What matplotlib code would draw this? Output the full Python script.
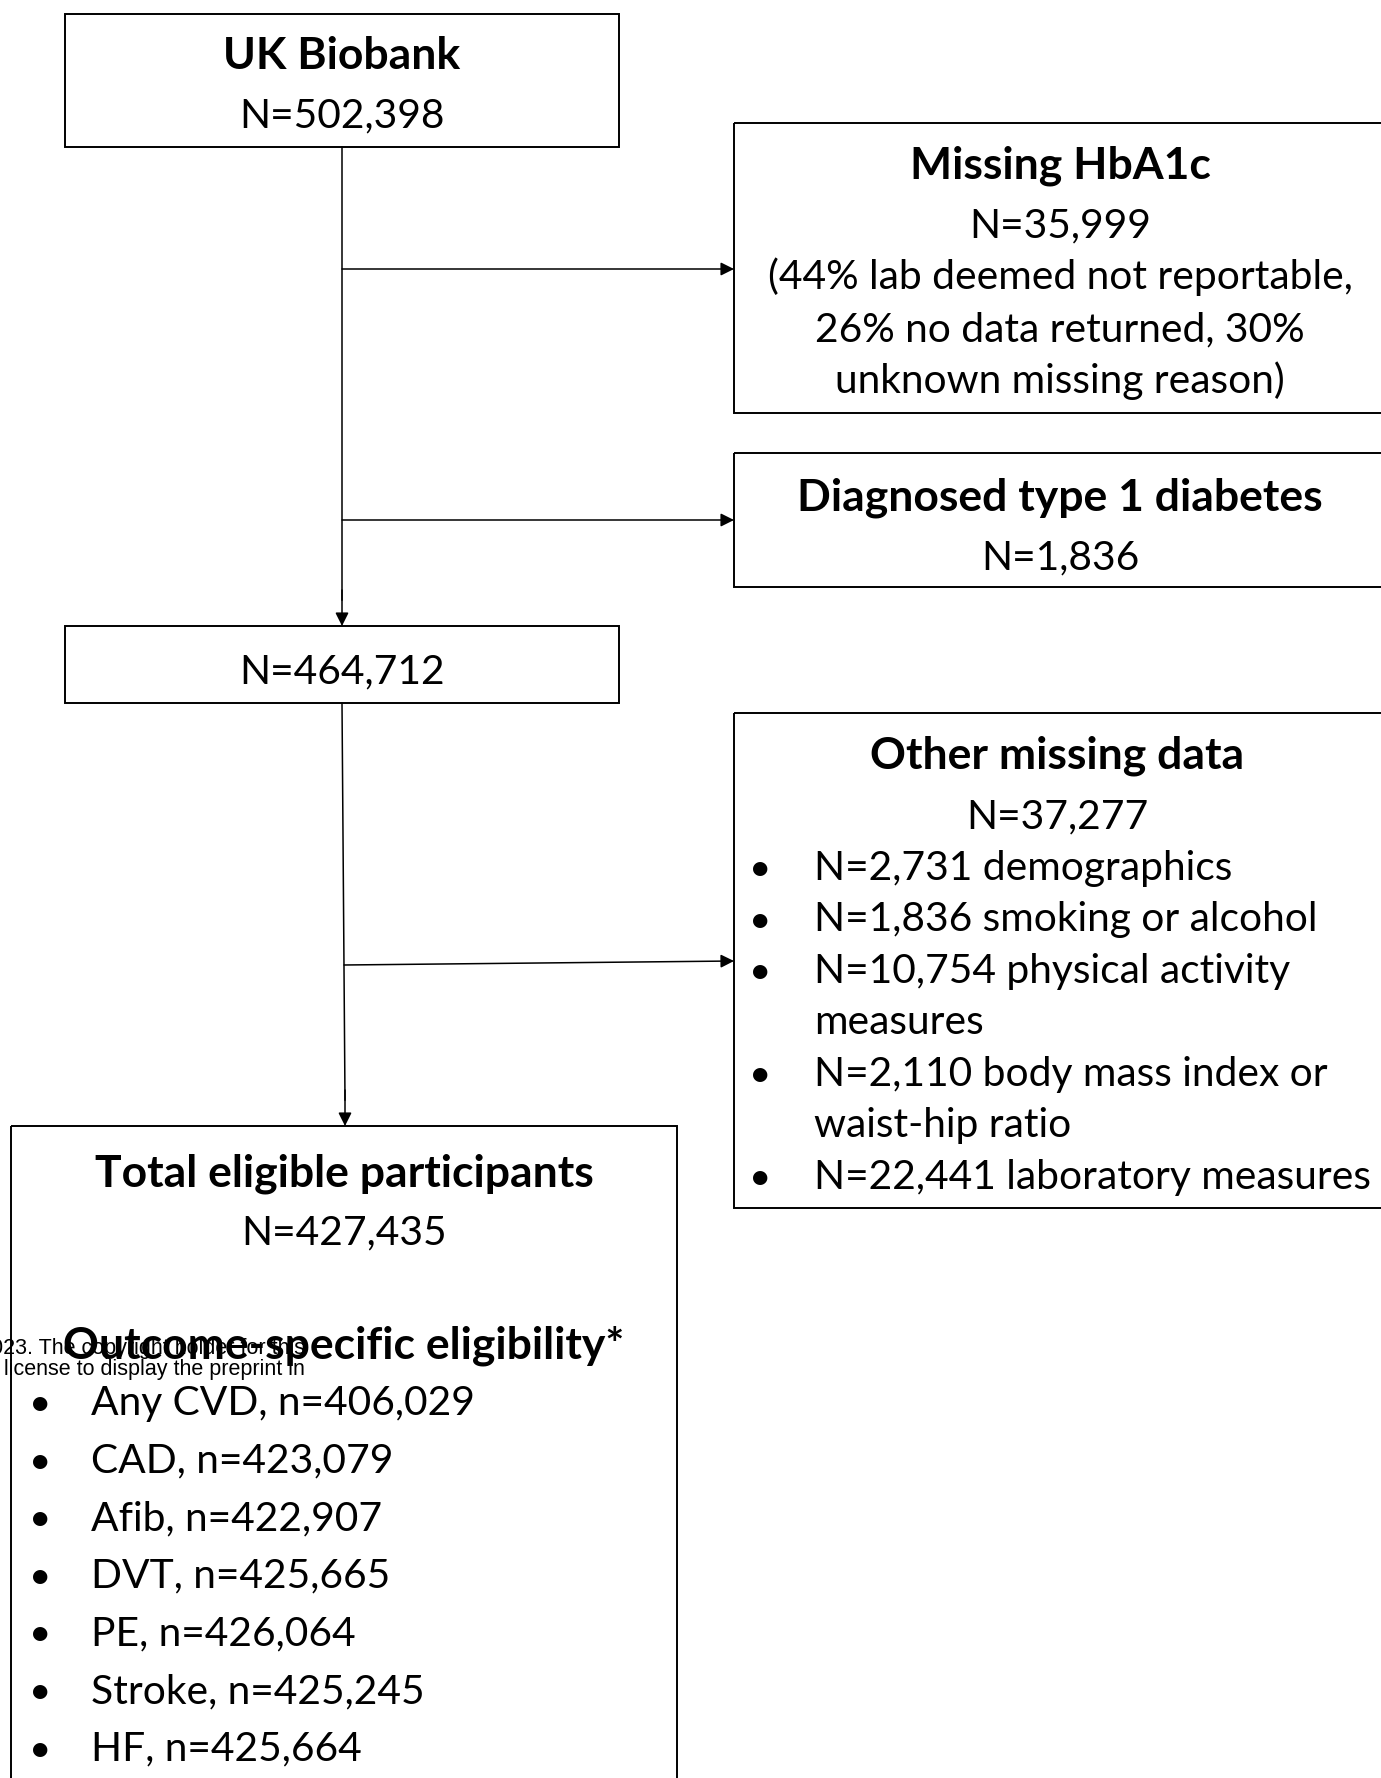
import matplotlib
matplotlib.use('Agg')
import matplotlib.pyplot as plt
from matplotlib.patches import Rectangle

plt.rcParams['font.family'] = ['Lato', 'DejaVu Sans']

# flow chart contents
top_title = 'UK Biobank'
top_n = 'N=502,398'

hba1c_title = 'Missing HbA1c'
hba1c_lines = ['N=35,999', '(44% lab deemed not reportable,',
               '26% no data returned, 30%', 'unknown missing reason)']

t1d_title = 'Diagnosed type 1 diabetes'
t1d_n = 'N=1,836'

mid_n = 'N=464,712'

other_title = 'Other missing data'
other_n = 'N=37,277'
other_items = [['N=2,731 demographics'],
               ['N=1,836 smoking or alcohol'],
               ['N=10,754 physical activity', 'measures'],
               ['N=2,110 body mass index or', 'waist-hip ratio'],
               ['N=22,441 laboratory measures']]

final_title = 'Total eligible participants'
final_n = 'N=427,435'
outcome_title = 'Outcome-specific eligibility*'
outcomes = ['Any CVD, n=406,029', 'CAD, n=423,079', 'Afib, n=422,907',
            'DVT, n=425,665', 'PE, n=426,064', 'Stroke, n=425,245',
            'HF, n=425,664']

watermark = ['2023. The copyright holder for this',
             'a license to display the preprint in']

W, H = 1381, 1778
fig = plt.figure(figsize=(W / 100, H / 100), dpi=100)
ax = fig.add_axes([0, 0, 1, 1])
ax.set_xlim(0, W)
ax.set_ylim(H, 0)
ax.axis('off')

FS = 29.3
FS_BOLD = 32
LW_BOX = 1.4
LW_LINE = 1.1


def box(x0, y0, x1, y1):
    ax.add_patch(Rectangle((x0, y0), x1 - x0, y1 - y0, fill=False,
                           edgecolor='black', lw=LW_BOX))


def txt(x, y, s, bold=False, ha='center'):
    ax.text(x, y, s, ha=ha, va='baseline',
            fontsize=FS_BOLD if bold else FS,
            fontweight='bold' if bold else 'normal', color='black')


def bullet(x, y):
    ax.text(x, y, '\u2022', ha='center', va='baseline', fontsize=28,
            color='black')


def arrow(x0, y0, x1, y1):
    ax.annotate('', xy=(x1, y1), xytext=(x0, y0),
                arrowprops=dict(arrowstyle='-|>', color='black', lw=LW_LINE,
                                mutation_scale=20, shrinkA=0, shrinkB=0))


# boxes
box(65, 14, 619, 147)
box(734, 123, 1390, 413)
box(734, 453, 1390, 587)
box(65, 626, 619, 703)
box(734, 713, 1390, 1208)
box(11, 1126, 677, 1800)

# connectors
ax.plot([342, 342], [147, 600], color='black', lw=LW_LINE)
arrow(342, 590, 342, 626)
arrow(342, 269, 734, 269)
arrow(342, 520, 734, 520)
ax.plot([342, 345], [703, 1100], color='black', lw=LW_LINE)
arrow(345, 1090, 345, 1126)
arrow(344, 965, 734, 961)

# top box
txt(342, 69, top_title, bold=True)
txt(342, 127, top_n)

# missing HbA1c
cx = 1060
txt(cx, 179, hba1c_title, bold=True)
for y, s in zip([237, 289, 341, 393], hba1c_lines):
    txt(cx, y, s)

# type 1 diabetes
txt(cx, 511, t1d_title, bold=True)
txt(cx, 569, t1d_n)

# middle box
txt(342, 683, mid_n)

# other missing data
txt(1057, 769, other_title, bold=True)
txt(1057, 828, other_n)
y = 880
for item in other_items:
    bullet(760, y)
    for line in item:
        txt(814, y, line, ha='left')
        y += 51.5

# final box
txt(344, 1187, final_title, bold=True)
txt(344, 1244, final_n)
txt(344, 1358, outcome_title, bold=True)
for i, s in enumerate(outcomes):
    yy = 1415 + 57.6 * i
    bullet(40, yy)
    txt(91, yy, s, ha='left')

# preprint watermark
for yy, s in zip([1354, 1375], watermark):
    ax.text(305, yy, s, ha='right', va='baseline', fontsize=15.5,
            family=['Liberation Sans', 'DejaVu Sans'], color='black')

fig.savefig('out.png', dpi=100)
